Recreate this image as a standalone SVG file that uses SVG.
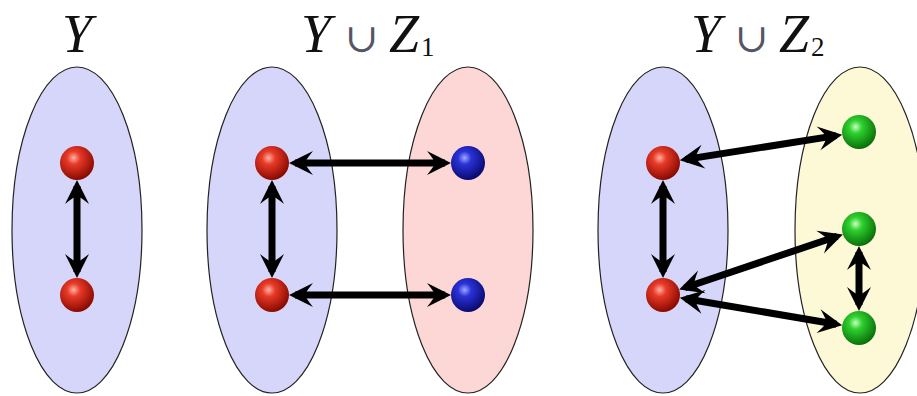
<svg xmlns="http://www.w3.org/2000/svg" width="917" height="396" viewBox="0 0 917 396">
<defs>
<style>
.set{stroke:#222;stroke-width:1.2}
.blueset{fill:#d6d6fa}
.pinkset{fill:#fdd6d6}
.yellowset{fill:#fdf9d6}
.edge{stroke:#000;stroke-width:7;fill:none;marker-start:url(#ah);marker-end:url(#ah)}
.lbl{font-family:"Liberation Serif","Times New Roman",serif;font-size:54px;fill:#111}
.it{font-style:italic}
.cup{font-family:"DejaVu Serif","Liberation Serif",serif;font-size:40px;fill:#556}
.sub{font-size:27px}
</style>
<radialGradient id="gRed" cx="0.4" cy="0.35" r="0.65">
<stop offset="0" stop-color="#ffb0a0"/>
<stop offset="0.3" stop-color="#e83a28"/>
<stop offset="1" stop-color="#8a0a00"/>
</radialGradient>
<radialGradient id="gBlue" cx="0.4" cy="0.35" r="0.65">
<stop offset="0" stop-color="#9fa8ff"/>
<stop offset="0.3" stop-color="#2a32d8"/>
<stop offset="1" stop-color="#0a0a70"/>
</radialGradient>
<radialGradient id="gGreen" cx="0.4" cy="0.35" r="0.65">
<stop offset="0" stop-color="#c8ffc0"/>
<stop offset="0.3" stop-color="#2ed02e"/>
<stop offset="1" stop-color="#0a700a"/>
</radialGradient>
<marker id="ah" markerUnits="userSpaceOnUse" viewBox="-22 -13 30 26" refX="0" refY="0" markerWidth="30" markerHeight="26" orient="auto-start-reverse" overflow="visible">
<path d="M6,0 L-18,-12 Q-10,-2 -10,0 Q-10,2 -18,12 Z" fill="#000"/>
</marker>
</defs>
<rect width="917" height="396" fill="#fff"/>
<g id="labels">
<text class="lbl it" x="62" y="52">Y</text>
<text class="lbl" y="52"><tspan class="it" x="301">Y</tspan><tspan class="cup" x="345">∪</tspan><tspan class="it" x="389">Z</tspan><tspan class="sub" x="421" y="56">1</tspan></text>
<text class="lbl" y="52"><tspan class="it" x="691">Y</tspan><tspan class="cup" x="735">∪</tspan><tspan class="it" x="779">Z</tspan><tspan class="sub" x="811" y="56">2</tspan></text>
</g>
<g id="set-Y"><ellipse class="set blueset" cx="77" cy="230" rx="65" ry="163"/></g>
<g id="set-Y1"><ellipse class="set blueset" cx="272" cy="230" rx="65" ry="163"/></g>
<g id="set-Z1"><ellipse class="set pinkset" cx="468" cy="230" rx="65" ry="163"/></g>
<g id="set-Y2"><ellipse class="set blueset" cx="663" cy="230" rx="65" ry="163"/></g>
<g id="set-Z2"><ellipse class="set yellowset" cx="860" cy="230" rx="65" ry="163"/></g>
<g id="connectors">
<line class="edge" x1="77" y1="186" x2="77" y2="272"/>
<line class="edge" x1="272" y1="186" x2="272" y2="272"/>
<line class="edge" x1="295" y1="163" x2="445" y2="163"/>
<line class="edge" x1="295" y1="295" x2="445" y2="295"/>
<line class="edge" x1="663" y1="186" x2="663" y2="272"/>
<line class="edge" x1="685.7" y1="159.4" x2="836.3" y2="135.6"/>
<line class="edge" x1="684.8" y1="287.7" x2="837.2" y2="236.3"/>
<line class="edge" x1="685.7" y1="298.8" x2="836.3" y2="324.2"/>
<line class="edge" x1="859" y1="252" x2="859" y2="305"/>
</g>
<g id="n-y-top"><circle cx="77" cy="163" r="17" fill="url(#gRed)"/></g>
<g id="n-y-bot"><circle cx="77" cy="295" r="17" fill="url(#gRed)"/></g>
<g id="n-y1-top"><circle cx="272" cy="163" r="17" fill="url(#gRed)"/></g>
<g id="n-y1-bot"><circle cx="272" cy="295" r="17" fill="url(#gRed)"/></g>
<g id="n-z1-top"><circle cx="468" cy="163" r="17" fill="url(#gBlue)"/></g>
<g id="n-z1-bot"><circle cx="468" cy="295" r="17" fill="url(#gBlue)"/></g>
<g id="n-y2-top"><circle cx="663" cy="163" r="17" fill="url(#gRed)"/></g>
<g id="n-y2-bot"><circle cx="663" cy="295" r="17" fill="url(#gRed)"/></g>
<g id="n-z2-top"><circle cx="859" cy="132" r="17" fill="url(#gGreen)"/></g>
<g id="n-z2-mid"><circle cx="859" cy="229" r="17" fill="url(#gGreen)"/></g>
<g id="n-z2-bot"><circle cx="859" cy="328" r="17" fill="url(#gGreen)"/></g>
</svg>
